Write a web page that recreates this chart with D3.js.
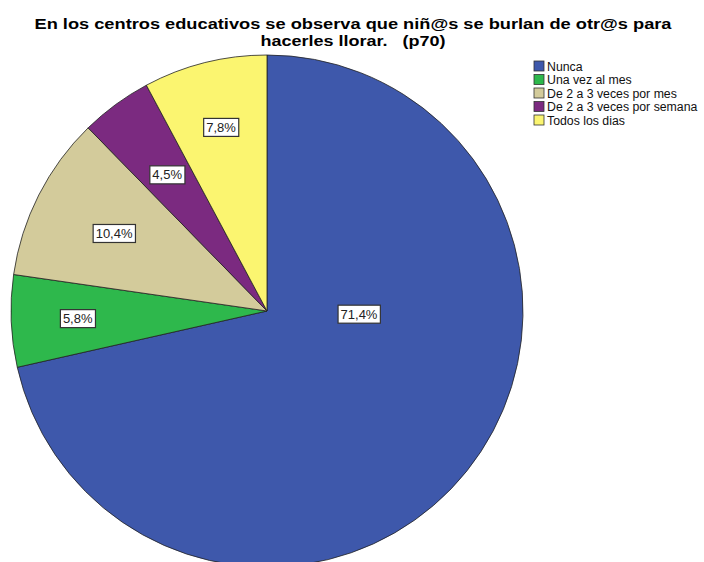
<!DOCTYPE html>
<html><head><meta charset="utf-8">
<script src="https://cdn.jsdelivr.net/npm/d3@7/dist/d3.min.js"></script>
<style>body{margin:0;background:#fff;} svg{display:block;}</style>
</head><body>
<svg id="c" width="704" height="562"></svg>
<script>
const categories = ["Nunca","Una vez al mes","De 2 a 3 veces por mes","De 2 a 3 veces por semana","Todos los dias"];
const values = [71.4, 5.8, 10.4, 4.5, 7.8];
const labels = ["71,4%","5,8%","10,4%","4,5%","7,8%"];
const colors = ["#3e58ab","#2eb84c","#d3cb9b","#7b2a80","#fbf570"];
const titleLines = ["En los centros educativos se observa que niñ@s se burlan de otr@s para","hacerles llorar.   (p70)"];

const svg = d3.select("#c");
const cx = 267, cy = 311, r = 256;
const font = "Arial, 'Liberation Sans', sans-serif";

const title = svg.append("g");
const tw = [637, 185];
titleLines.forEach((line,i)=>{
  title.append("text").attr("x",353).attr("y",28.5+i*17).attr("text-anchor","middle")
    .attr("font-family",font).attr("font-weight","bold").attr("font-size",15).attr("fill","#000")
    .attr("xml:space","preserve").style("white-space","pre")
    .attr("textLength",tw[i]).attr("lengthAdjust","spacingAndGlyphs")
    .text(line);
});

const pie = d3.pie().sort(null).value(d=>d)(values);
const arc = d3.arc().innerRadius(0).outerRadius(r);
const g = svg.append("g").attr("transform",`translate(${cx},${cy})`);
g.selectAll("path").data(pie).join("path")
  .attr("d",arc).attr("fill",(d,i)=>colors[i])
  .attr("stroke","#222").attr("stroke-width",0.8).attr("stroke-linejoin","round");

function labelPos(d,i){
  if(i===0){ return [92, 3]; }
  const a = (d.startAngle+d.endAngle)/2;
  const rr = [0,0.74,0.67,0.66,0.74][i]*r;
  return [Math.sin(a)*rr, -Math.cos(a)*rr];
}
const lg = g.selectAll("g.lab").data(pie).join("g").attr("class","lab")
  .attr("transform",(d,i)=>{const p=labelPos(d,i);return `translate(${p[0]},${p[1]})`;});
lg.each(function(d,i){
  const s = d3.select(this);
  const t = s.append("text").attr("text-anchor","middle").attr("dy","0.36em")
    .attr("font-family",font).attr("font-size",13).attr("fill","#222").text(labels[i]);
  const bb = t.node().getBBox();
  s.insert("rect","text").attr("x",bb.x-2.5).attr("y",bb.y-1.5).attr("width",bb.width+5).attr("height",bb.height+3)
    .attr("fill","#fff").attr("stroke","#333").attr("stroke-width",1.2);
});

const leg = svg.append("g").attr("transform","translate(534,61)");
const li = leg.selectAll("g").data(categories).join("g").attr("transform",(d,i)=>`translate(0,${i*13.5})`);
li.append("rect").attr("width",10).attr("height",10).attr("fill",(d,i)=>colors[i]).attr("stroke","#333").attr("stroke-width",0.8);
li.append("text").attr("x",13).attr("y",9.5).attr("font-family",font).attr("font-size",12.3).attr("fill","#111").text(d=>d);
</script>
</body></html>
